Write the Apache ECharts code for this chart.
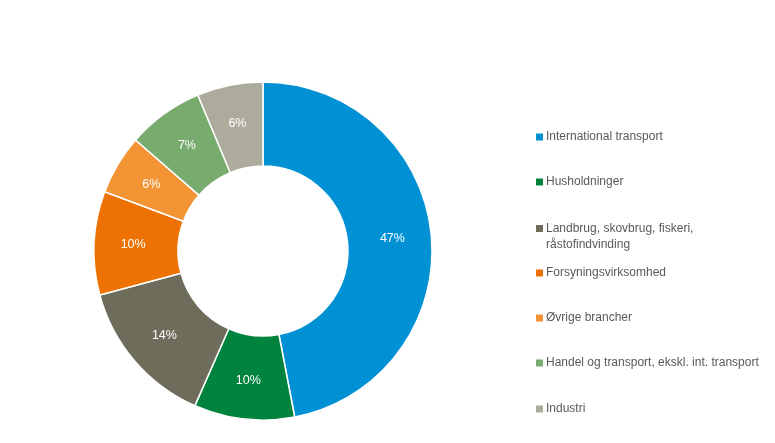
<!DOCTYPE html>
<html>
<head>
<meta charset="utf-8">
<script src="https://cdn.jsdelivr.net/npm/echarts@6/dist/echarts.min.js"></script>
<style>
  html, body { margin: 0; padding: 0; background: #fff; }
  #chart { width: 775px; height: 443px; }
</style>
</head>
<body>
<div id="chart"></div>
<script>
// kategorier og andele (pct.)
var categories = [
    'International transport',
    'Husholdninger',
    'Landbrug, skovbrug, fiskeri,\nråstofindvinding',
    'Forsyningsvirksomhed',
    'Øvrige brancher',
    'Handel og transport, ekskl. int. transport',
    'Industri'
];
var shares = [47.0, 9.6, 14.2, 9.9, 5.7, 7.3, 6.3];
var colors = ['#0091d5', '#00843d', '#6e6c5a', '#ee7203', '#f39434', '#78ab6e', '#adab9c'];

// legend-rækkernes lodrette midte (px)
var legendRows = [137, 182, 229, 273, 318, 363, 409];

var font = '"Liberation Sans", Arial, sans-serif';

var chart = echarts.init(document.getElementById('chart'));

// to-linjers tekst: ikonet skal flugte med første linje
var squareTop = 'path://M0,0h7v7h-7z M0,23.9h0.1v0.1h-0.1z';

var legends = categories.map(function (name, i) {
    var twoLines = name.indexOf('\n') >= 0;
    return {
        left: 536,
        top: legendRows[i] - 8,
        padding: 0,
        itemWidth: 7,
        itemHeight: twoLines ? 24 : 7,
        itemGap: 0,
        icon: twoLines ? squareTop : 'rect',
        itemStyle: { borderWidth: 0 },
        selectedMode: false,
        data: [name],
        textStyle: {
            fontFamily: font,
            fontSize: 12,
            color: '#595959',
            lineHeight: 16,
            padding: [0, 0, 0, -2]
        }
    };
});

chart.setOption({
    backgroundColor: '#fff',
    animation: false,
    color: colors,
    legend: legends,
    series: [{
        type: 'pie',
        center: [263, 251],
        radius: [85, 169],
        startAngle: 90,
        clockwise: true,
        avoidLabelOverlap: false,
        itemStyle: { borderColor: '#fff', borderWidth: 1.5 },
        label: {
            show: true,
            position: 'inside',
            color: '#fff',
            fontFamily: font,
            fontSize: 12.5,
            formatter: function (p) { return Math.round(p.value) + '%'; }
        },
        labelLine: { show: false },
        emphasis: { disabled: true },
        data: categories.map(function (name, i) {
            return { name: name, value: shares[i] };
        })
    }]
});

window.onresize = function () {
    chart.resize();
};
</script>
</body>
</html>
